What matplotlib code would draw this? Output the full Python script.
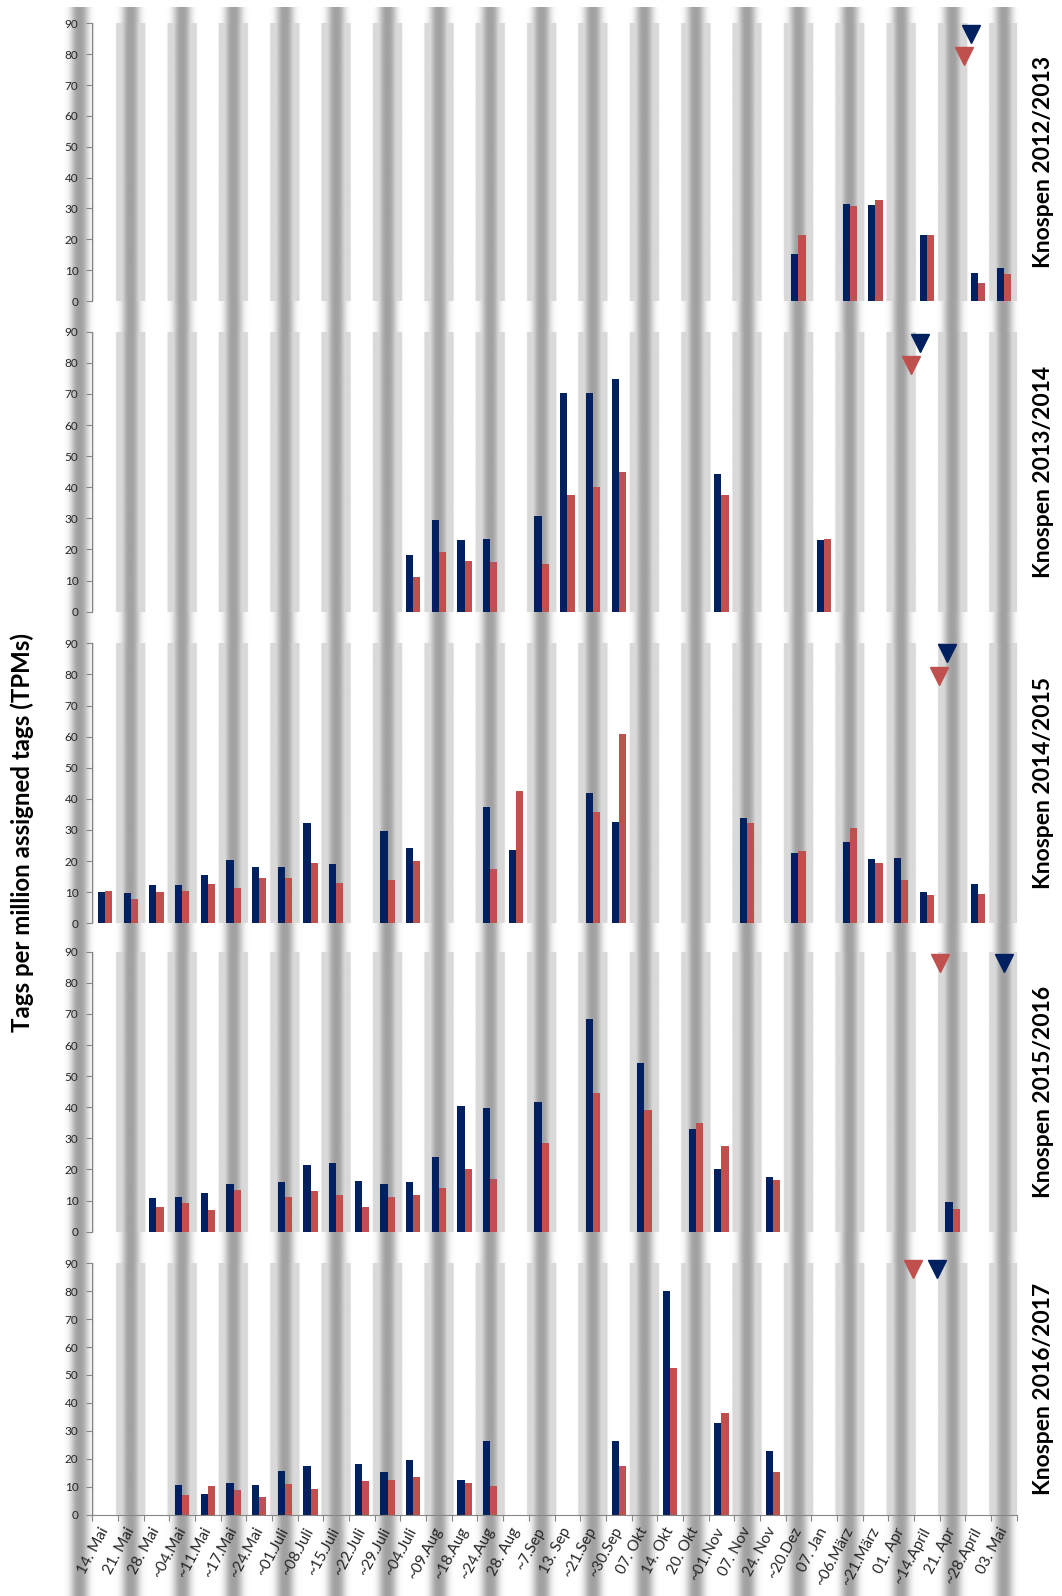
import numpy as np
import matplotlib.pyplot as plt

plt.rcParams['font.family'] = ['Lato', 'DejaVu Sans']

n = np.nan

categories = ['14. Mai', '21. Mai', '28. Mai', '~04.Mai', '~11.Mai', '~17.Mai',
              '~24.Mai', '~01.Juli', '~08.Juli', '~15.Juli', '~22.Juli', '~29.Juli',
              '~04.Juli', '~09.Aug', '~18.Aug', '~24.Aug', '28. Aug', '~7.Sep',
              '13. Sep', '~21.Sep', '~30.Sep', '07. Okt', '14. Okt', '20. Okt',
              '~01.Nov', '07. Nov', '24. Nov', '~20.Dez', '07. Jan', '~06.März',
              '~21.März', '01. Apr', '~14.April', '21. Apr', '~28.April', '03. Mai']

seasons = ['Knospen 2012/2013', 'Knospen 2013/2014', 'Knospen 2014/2015',
           'Knospen 2015/2016', 'Knospen 2016/2017']

# TPM values per sampling date (blue / red series)
blue_1213 = [n, n, n, n, n, n,  n, n, n, n, n, n,  n, n, n, n, n, n,
             n, n, n, n, n, n,  n, n, n, 15.2, n, 31.4,  31.1, n, 21.4, n, 9.1, 10.7]
red_1213 = [n, n, n, n, n, n,  n, n, n, n, n, n,  n, n, n, n, n, n,
            n, n, n, n, n, n,  n, n, n, 21.4, n, 30.8,  32.7, n, 21.4, n, 5.8, 8.8]

blue_1314 = [n, n, n, n, n, n,  n, n, n, n, n, n,  18.2, 29.5, 23.0, 23.4, n, 30.8,
             70.3, 70.3, 74.8, n, n, n,  44.2, n, n, n, 23.0, n,  n, n, n, n, n, n]
red_1314 = [n, n, n, n, n, n,  n, n, n, n, n, n,  11.1, 19.2, 16.3, 16.0, n, 15.3,
            37.5, 40.1, 44.9, n, n, n,  37.5, n, n, n, 23.4, n,  n, n, n, n, n, n]

blue_1415 = [10.1, 9.8, 12.3, 12.3, 15.5, 20.4,  18.1, 18.1, 32.2, 19.1, n, 29.7,
             24.2, n, n, 37.4, 23.6, n,  n, 41.9, 32.6, n, n, n,
             n, 33.9, n, 22.6, n, 26.1,  20.7, 21.0, 10.1, n, 12.6, n]
red_1415 = [10.4, 7.8, 10.1, 10.4, 12.6, 11.4,  14.6, 14.6, 19.4, 13.0, n, 13.9,
            20.0, n, n, 17.5, 42.5, n,  n, 35.8, 60.9, n, n, n,
            n, 32.2, n, 23.2, n, 30.6,  19.4, 13.9, 9.1, n, 9.4, n]

blue_1516 = [n, n, 10.8, 11.1, 12.4, 15.3,  n, 16.0, 21.4, 22.1, 16.3, 15.3,
             16.0, 24.0, 40.4, 39.8, n, 41.7,  n, 68.4, n, 54.2, n, 33.0,
             20.1, n, 17.6, n, n, n,  n, n, n, 9.5, n, n]
red_1516 = [n, n, 7.9, 9.2, 7.0, 13.4,  n, 11.1, 13.1, 11.8, 7.9, 11.1,
            11.8, 14.0, 20.1, 16.9, n, 28.5,  n, 44.6, n, 39.1, n, 34.9,
            27.5, n, 16.6, n, n, n,  n, n, n, 7.3, n, n]

blue_1617 = [n, n, n, 10.6, 7.4, 11.3,  10.6, 15.6, 17.4, n, 18.1, 15.2,
             19.6, n, 12.4, 26.5, n, n,  n, n, 26.5, n, 80.2, n,
             32.7, n, 22.9, n, n, n,  n, n, n, n, n, n]
red_1617 = [n, n, n, 7.0, 10.2, 8.8,  6.3, 11.0, 9.2, n, 12.0, 12.4,
            13.5, n, 11.3, 10.2, n, n,  n, n, 17.4, n, 52.6, n,
            36.3, n, 15.2, n, n, n,  n, n, n, n, n, n]

blue_all = [blue_1213, blue_1314, blue_1415, blue_1516, blue_1617]
red_all = [red_1213, red_1314, red_1415, red_1516, red_1617]

# triangle markers (position on the date axis, height)
tri_blue_x = [33.72, 31.73, 32.77, 35.0, 32.4]
tri_blue_y = [86.5, 86.3, 87.0, 86.4, 87.8]
tri_red_x = [33.45, 31.4, 32.46, 32.5, 31.46]
tri_red_y = [79.3, 79.2, 79.5, 86.3, 87.8]

c_blue = '#002060'
c_red = '#C0504D'
c_axis = '#868686'
c_text = '#262626'

W, H = 1062, 1596
fig = plt.figure(figsize=(W / 100, H / 100), dpi=100)

x_left, x_right = 92.3, 1016.7
panel_px = [(23.3, 301.0), (331.7, 611.7), (643.3, 923.3), (951.7, 1231.7), (1263.3, 1514.6)]
ncat = len(categories)
cw = (x_right - x_left) / ncat


def stripe_gray(x, band):
    t = np.mod(x - 1, 2.0)
    d = np.minimum(t, 2 - t)
    g = 1 - 0.37 * np.exp(-(d / 0.34) ** 2.5)
    if band:
        g = np.where(d < 0.57, np.minimum(g, 0.85), g)
    g = np.where((x < -1.7) | (x > ncat - 0.3), 1.0, g)
    return g


# background stripes across the whole figure
ax_bg = fig.add_axes([0, 0, 1, 1], zorder=0)
xb0 = -0.5 - x_left / cw
xb1 = -0.5 + (W - x_left) / cw
xs = np.linspace(xb0, xb1, 3000)
ax_bg.imshow(stripe_gray(xs, False)[None, :], cmap='gray', vmin=0, vmax=1,
             aspect='auto', extent=[xb0, xb1, 0, H - 7], interpolation='bilinear')
ax_bg.set_xlim(xb0, xb1)
ax_bg.set_ylim(0, H)
ax_bg.axis('off')

x = np.arange(ncat)
bw = 0.28
axes = []
for k, (y90, y0) in enumerate(panel_px):
    ax = fig.add_axes([x_left / W, 1 - y0 / H, (x_right - x_left) / W, (y0 - y90) / H], zorder=1)
    ax.set_facecolor('none')
    xs_p = np.linspace(-0.5, ncat - 0.5, 3000)
    ax.imshow(stripe_gray(xs_p, True)[None, :], cmap='gray', vmin=0, vmax=1,
              aspect='auto', extent=[-0.5, ncat - 0.5, 0, 90], interpolation='bilinear', zorder=0)

    ax.bar(x - bw / 2, blue_all[k], width=bw, color=c_blue, zorder=2)
    ax.bar(x + bw / 2, red_all[k], width=bw, color=c_red, zorder=2)
    ax.plot(tri_red_x[k], tri_red_y[k], 'v', ms=13, color=c_red, clip_on=False, zorder=3)
    ax.plot(tri_blue_x[k], tri_blue_y[k], 'v', ms=13, color=c_blue, clip_on=False, zorder=3)

    ax.set_xlim(-0.5, ncat - 0.5)
    ax.set_ylim(0, 90)
    ax.set_yticks(np.arange(0, 91, 10))
    ax.tick_params(axis='y', length=4, width=0.8, color=c_axis, pad=6, labelsize=8.5, labelcolor=c_text)
    for s in ['top', 'right', 'bottom']:
        ax.spines[s].set_visible(False)
    ax.spines['left'].set_color(c_axis)
    ax.spines['left'].set_linewidth(0.8)

    if k < len(panel_px) - 1:
        ax.set_xticks([])
    else:
        ax.spines['bottom'].set_visible(True)
        ax.spines['bottom'].set_color(c_axis)
        ax.spines['bottom'].set_linewidth(0.8)
        ax.set_xticks(x, labels=categories, rotation=62, ha='right', va='center',
                      rotation_mode='anchor', fontsize=11, color=c_text)
        ax.set_xticks(np.arange(ncat + 1) - 0.5, minor=True)
        ax.tick_params(axis='x', which='major', length=0, pad=10)
        ax.tick_params(axis='x', which='minor', length=4, width=0.8, color=c_axis)

    fig.text(1044 / W, 1 - (y90 + y0) / 2 / H, seasons[k], rotation=90, ha='center', va='center',
             fontsize=16.5, fontweight='bold', color='black')
    axes.append(ax)

fig.text(22.4 / W, 1 - 832 / H, 'Tags per million assigned tags (TPMs)', rotation=90,
         ha='center', va='center', fontsize=17.3, fontweight='bold', color='black')

fig.savefig('out.png', dpi=100, facecolor='white')
